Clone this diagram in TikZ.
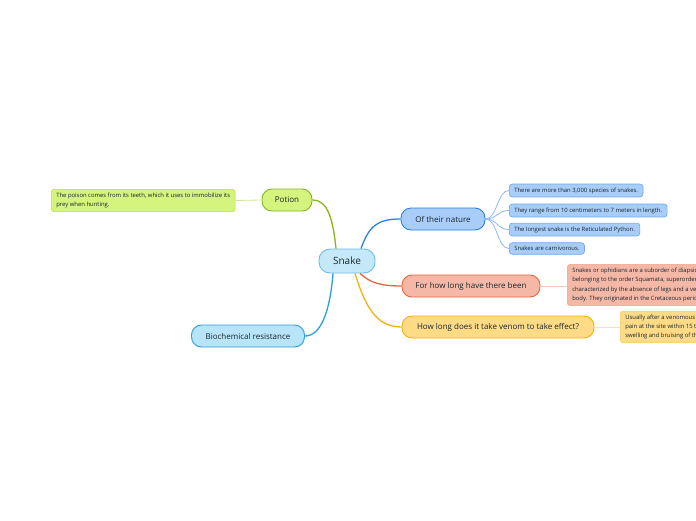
\documentclass[tikz,border=0pt]{standalone}
\usepackage{fontspec}
\setmainfont{Open Sans}
\usetikzlibrary{positioning}
\definecolor{Ink}{HTML}{17262F}
\definecolor{RootFill}{HTML}{C6E9FA}
\definecolor{RootDraw}{HTML}{6DBBE8}
\definecolor{Blue}{HTML}{2F7FE0}
\definecolor{BlueFill}{HTML}{A9CDF9}
\definecolor{BlueLeaf}{HTML}{6FA7EE}
\definecolor{BlueLink}{HTML}{8DB8F0}
\definecolor{Green}{HTML}{86B51C}
\definecolor{GreenFill}{HTML}{D4F47E}
\definecolor{GreenLeaf}{HTML}{B3DB5A}
\definecolor{GreenLink}{HTML}{C8E89A}
\definecolor{Red}{HTML}{E9643F}
\definecolor{RedFill}{HTML}{F6B8A6}
\definecolor{RedLeaf}{HTML}{F1A08A}
\definecolor{RedLink}{HTML}{F8C7B8}
\definecolor{Yellow}{HTML}{F3B10A}
\definecolor{YellowFill}{HTML}{FFDB86}
\definecolor{YellowLeaf}{HTML}{F5CC66}
\definecolor{YellowLink}{HTML}{FBE3A6}
\definecolor{Sky}{HTML}{2A9EE0}
\definecolor{SkyFill}{HTML}{B8E4FA}
\tikzset{
  root/.style={rounded corners=11pt,draw=RootDraw,fill=RootFill,line width=.9pt,minimum width=56pt,
    minimum height=24pt,text=Ink,font=\fontsize{10}{12}\selectfont},
  topic/.style={rounded corners=10pt,line width=.9pt,minimum height=22pt,text=Ink,
    font=\fontsize{8}{10}\selectfont},
  leaf/.style={rounded corners=3pt,line width=.6pt,anchor=west,align=left,text=Ink,inner xsep=5pt,
    inner ysep=3.5pt,font=\fontsize{5.9}{9.4}\selectfont},
  link/.style={line width=1.3pt},
  twig/.style={line width=.8pt}
}

\begin{document}
\begin{tikzpicture}[x=1pt,y=-1pt]
        \useasboundingbox (0,0) rectangle (696,520);
        \clip (0,0) rectangle (696,520);
        % main topics
        \node[root] (snake) at (347,261) {Snake};
        \node[topic,draw=Blue,fill=BlueFill,minimum width=84pt] (nature) at (443,219) {Of their nature};
        \node[topic,draw=Green,fill=GreenFill,minimum width=50pt] (potion) at (287,200) {Potion};
        \node[topic,draw=Red,fill=RedFill,minimum width=138pt] (since) at (471,286) {For how long have there been};
        \node[topic,draw=Yellow,fill=YellowFill,minimum width=192pt] (venom) at (498,327) {How long does it take venom to take effect?};
        \node[topic,draw=Sky,fill=SkyFill,minimum width=113pt] (bio) at (248,336) {Biochemical resistance};
        % leaves
        \node[leaf,draw=BlueLeaf,fill=BlueFill] (fact1) at (509,190.5) {There are more than 3,000 species of snakes.};
        \node[leaf,draw=BlueLeaf,fill=BlueFill] (fact2) at (509,210.5) {They range from 10 centimeters to 7 meters in length.};
        \node[leaf,draw=BlueLeaf,fill=BlueFill] (fact3) at (509,229.5) {The longest snake is the Reticulated Python.};
        \node[leaf,draw=BlueLeaf,fill=BlueFill] (fact4) at (509,248.5) {Snakes are carnivorous.};
        \node[leaf,draw=GreenLeaf,fill=GreenFill] (poison) at (51,200.5) {The poison comes from its teeth, which it uses to immobilize its\\prey when hunting.};
        \node[leaf,draw=RedLeaf,fill=RedFill] (origin) at (567,285) {Snakes or ophidians are a suborder of diapsid sauropsids\\belonging to the order Squamata, superorder Lepidosauria,\\characterized by the absence of legs and a very elongated\\body. They originated in the Cretaceous period.};
        \node[leaf,draw=YellowLeaf,fill=YellowFill] (pain) at (620,327) {Usually after a venomous snake bite, there is\\pain at the site within 15 to 30 minutes, followed by\\swelling and bruising of the area.};
        % links
        \draw[link,Blue] ([xshift=14pt]snake.north) .. controls +(8,-22) and +(-24,0) .. (nature.west);
        \draw[link,Green] ([xshift=-11pt]snake.north) .. controls +(-3,-28) and +(16,0) .. (potion.east);
        \draw[link,Red] ([xshift=13pt]snake.south) .. controls +(10,9) and +(-22,0) .. (since.west);
        \draw[link,Yellow] ([xshift=8pt]snake.south) .. controls +(10,32) and +(-26,0) .. (venom.west);
        \draw[link,Sky] ([xshift=-14pt]snake.south) .. controls +(-3,38) and +(16,0) .. (bio.east);
        \foreach \f in {fact1,fact2,fact3,fact4}
          \draw[twig,BlueLink] (nature.east) .. controls +(12,0) and +(-12,0) .. (\f.west);
        \draw[twig,GreenLink] (potion.west) -- (poison.east);
        \draw[twig,RedLink] (since.east) -- (since.east -| origin.west);
        \draw[twig,YellowLink] (venom.east) -- (pain.west);
      \end{tikzpicture}
\end{document}
